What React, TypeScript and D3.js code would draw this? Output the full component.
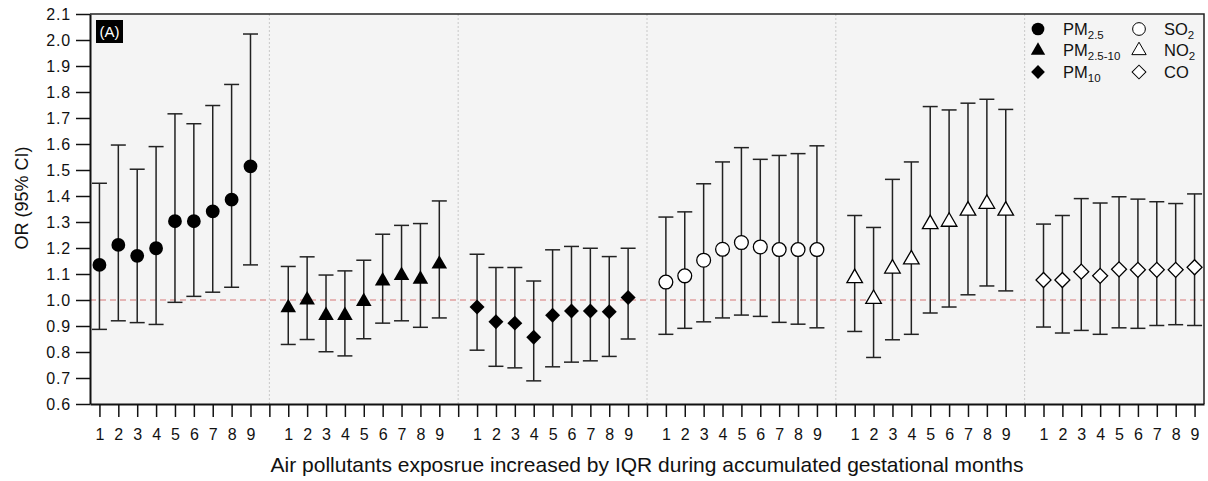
import React, { useEffect, useRef } from 'react'
import * as d3 from 'd3'

// months of accumulated gestational exposure
const months = [1, 2, 3, 4, 5, 6, 7, 8, 9]

const pm25OR = [1.135, 1.212, 1.170, 1.199, 1.303, 1.303, 1.341, 1.386, 1.514]
const pm25Low = [0.887, 0.920, 0.913, 0.906, 0.991, 1.014, 1.030, 1.049, 1.135]
const pm25High = [1.449, 1.596, 1.503, 1.590, 1.716, 1.678, 1.748, 1.829, 2.023]

const pmCoarseOR = [0.970, 1.000, 0.940, 0.940, 0.994, 1.073, 1.094, 1.080, 1.138]
const pmCoarseLow = [0.829, 0.848, 0.801, 0.785, 0.851, 0.911, 0.920, 0.895, 0.931]
const pmCoarseHigh = [1.129, 1.166, 1.096, 1.112, 1.153, 1.253, 1.287, 1.294, 1.381]

const pm10OR = [0.973, 0.916, 0.911, 0.857, 0.941, 0.958, 0.958, 0.955, 1.010]
const pm10Low = [0.807, 0.745, 0.739, 0.689, 0.743, 0.761, 0.766, 0.783, 0.850]
const pm10High = [1.176, 1.125, 1.125, 1.073, 1.193, 1.206, 1.199, 1.167, 1.199]

const so2OR = [1.069, 1.093, 1.153, 1.195, 1.221, 1.204, 1.194, 1.194, 1.194]
const so2Low = [0.868, 0.891, 0.916, 0.931, 0.942, 0.937, 0.914, 0.907, 0.893]
const so2High = [1.319, 1.339, 1.447, 1.531, 1.586, 1.541, 1.556, 1.563, 1.593]

const no2OR = [1.084, 1.004, 1.121, 1.156, 1.292, 1.301, 1.344, 1.370, 1.344]
const no2Low = [0.879, 0.779, 0.847, 0.868, 0.950, 0.973, 1.020, 1.054, 1.035]
const no2High = [1.325, 1.279, 1.464, 1.531, 1.744, 1.731, 1.757, 1.772, 1.733]

const coOR = [1.077, 1.077, 1.109, 1.093, 1.118, 1.116, 1.116, 1.116, 1.126]
const coLow = [0.896, 0.873, 0.883, 0.868, 0.893, 0.891, 0.902, 0.905, 0.902]
const coHigh = [1.292, 1.325, 1.390, 1.373, 1.397, 1.388, 1.378, 1.371, 1.408]

const pollutantNames = ['PM', 'PM', 'PM', 'SO', 'NO', 'CO']
const pollutantSubs = ['2.5', '2.5-10', '10', '2', '2', '']

const FONT = '"Liberation Sans", Arial, sans-serif'

export default function App() {
    const ref = useRef<SVGSVGElement>(null)

    const w = 1208
    const h = 481

    useEffect(() => {
        const svg = d3.select(ref.current)

        const left = 90, right = 1204, top = 14, bottom = 404

        const groups = [
            { or: pm25OR, lo: pm25Low, hi: pm25High, shape: 'circle', filled: true },
            { or: pmCoarseOR, lo: pmCoarseLow, hi: pmCoarseHigh, shape: 'triangle', filled: true },
            { or: pm10OR, lo: pm10Low, hi: pm10High, shape: 'diamond', filled: true },
            { or: so2OR, lo: so2Low, hi: so2High, shape: 'circle', filled: false },
            { or: no2OR, lo: no2Low, hi: no2High, shape: 'triangle', filled: false },
            { or: coOR, lo: coLow, hi: coHigh, shape: 'diamond', filled: false },
        ]

        // 6 groups of 9 months with an empty slot between groups
        const nSlots = groups.length * 10 - 1
        const x = d3.scaleLinear().domain([0.5, nSlots + 0.5]).range([left, right])
        const y = d3.scaleLinear().domain([0.6, 2.1]).range([bottom, top])

        const symbolPath = (shape: string, k = 1) => {
            if (shape === 'circle') return d3.symbol(d3.symbolCircle, 150 * k)()
            if (shape === 'triangle') return d3.symbol(d3.symbolTriangle, 105 * k)()
            return d3.symbol(d3.symbolSquare, 112 * k)()
        }

        // plot background
        svg.append('rect')
            .attr('x', left).attr('y', top)
            .attr('width', right - left).attr('height', bottom - top)
            .attr('fill', '#f4f4f4')

        // group separators
        svg.selectAll('.sep')
            .data(d3.range(1, groups.length))
            .join('line')
            .attr('x1', d => x(d * 10)).attr('x2', d => x(d * 10))
            .attr('y1', top).attr('y2', bottom)
            .attr('stroke', '#c8c8c8')
            .attr('stroke-dasharray', '2,2')

        // reference line at OR = 1
        svg.append('line')
            .attr('x1', left).attr('x2', right)
            .attr('y1', y(1)).attr('y2', y(1))
            .attr('stroke', '#e0a0a0')
            .attr('stroke-width', 1.5)
            .attr('stroke-dasharray', '6,4')

        // error bars + markers
        groups.forEach((g, gi) => {
            const gEl = svg.append('g')
            months.forEach((m, i) => {
                const cx = x(gi * 10 + m)
                gEl.append('line')
                    .attr('x1', cx).attr('x2', cx)
                    .attr('y1', y(g.lo[i])).attr('y2', y(g.hi[i]))
                    .attr('stroke', '#222').attr('stroke-width', 1.5)
                ;[g.lo[i], g.hi[i]].forEach(v => {
                    gEl.append('line')
                        .attr('x1', cx - 7.5).attr('x2', cx + 7.5)
                        .attr('y1', y(v)).attr('y2', y(v))
                        .attr('stroke', '#222').attr('stroke-width', 1.5)
                })
                gEl.append('path')
                    .attr('d', symbolPath(g.shape))
                    .attr('transform', `translate(${cx},${y(g.or[i])})${g.shape === 'diamond' ? ' rotate(45)' : ''}`)
                    .attr('fill', g.filled ? '#000' : '#fff')
                    .attr('stroke', '#000')
                    .attr('stroke-width', g.filled ? 0 : 1.3)
            })
        })

        // top and right frame
        svg.append('path')
            .attr('d', `M${left},${top}H${right}V${bottom}`)
            .attr('fill', 'none')
            .attr('stroke', '#222')
            .attr('stroke-width', 1.5)

        // y axis
        const yAxis = d3.axisLeft(y)
            .tickValues(d3.range(6, 22).map(v => v / 10))
            .tickFormat(d3.format('.1f'))
            .tickSize(14)
            .tickSizeOuter(0)
            .tickPadding(5)
        const gY = svg.append('g').attr('transform', `translate(${left},0)`).call(yAxis)
        gY.select('.domain').attr('stroke', '#111').attr('stroke-width', 2)
        gY.selectAll('.tick line').attr('stroke', '#111').attr('stroke-width', 1.5)
        gY.selectAll('.tick text')
            .attr('font-family', FONT).attr('font-size', 16)
            .attr('letter-spacing', 0.8).attr('fill', '#111')

        // x axis
        const xAxis = d3.axisBottom(x)
            .tickValues(d3.range(1, nSlots + 1))
            .tickFormat(d => (+d % 10 === 0 ? '' : String(+d % 10)))
            .tickSize(13)
            .tickSizeOuter(0)
            .tickPadding(12)
        const gX = svg.append('g').attr('transform', `translate(0,${bottom})`).call(xAxis)
        gX.select('.domain').attr('stroke', '#111').attr('stroke-width', 2)
        gX.selectAll('.tick line').attr('stroke', '#111').attr('stroke-width', 1.5)
        gX.selectAll('.tick text')
            .attr('font-family', FONT).attr('font-size', 16).attr('fill', '#111')

        // axis titles
        svg.append('text')
            .attr('x', (left + right) / 2).attr('y', 472)
            .attr('text-anchor', 'middle')
            .attr('font-family', FONT).attr('font-size', 21)
            .attr('fill', '#111')
            .text('Air pollutants exposrue increased by IQR during accumulated gestational months')

        svg.append('text')
            .attr('transform', 'translate(28,198) rotate(-90)')
            .attr('text-anchor', 'middle')
            .attr('font-family', FONT).attr('font-size', 18)
            .attr('fill', '#111')
            .text('OR (95% CI)')

        // panel label
        svg.append('rect')
            .attr('x', 96).attr('y', 20).attr('width', 27).attr('height', 23)
            .attr('fill', '#000')
        svg.append('text')
            .attr('x', 109.5).attr('y', 37)
            .attr('text-anchor', 'middle')
            .attr('font-family', FONT).attr('font-size', 15)
            .attr('fill', '#fff')
            .text('(A)')

        // legend
        groups.forEach((g, gi) => {
            const col = Math.floor(gi / 3)
            const row = gi % 3
            const sx = 1038 + col * 101
            const sy = 29 + row * 21.5
            svg.append('path')
                .attr('d', symbolPath(g.shape, 0.85))
                .attr('transform', `translate(${sx},${sy})${g.shape === 'diamond' ? ' rotate(45)' : ''}`)
                .attr('fill', g.filled ? '#000' : '#fff')
                .attr('stroke', '#000')
                .attr('stroke-width', g.filled ? 0 : 1)
            const t = svg.append('text')
                .attr('x', sx + 25).attr('y', sy + 5.5)
                .attr('font-family', FONT).attr('font-size', 16.5)
                .attr('fill', '#111')
            t.append('tspan').text(pollutantNames[gi])
            if (pollutantSubs[gi]) {
                t.append('tspan')
                    .attr('font-size', 11.5)
                    .attr('dy', 4)
                    .text(pollutantSubs[gi])
            }
        })

        return () => {
            svg.selectAll('*').remove()
        }
    }, [])

    return (
        <div style={{ position: 'absolute', left: 0, top: 0 }}>
            <svg width={w} height={h} ref={ref} style={{ display: 'block', background: '#fff' }} />
        </div>
    )
}
